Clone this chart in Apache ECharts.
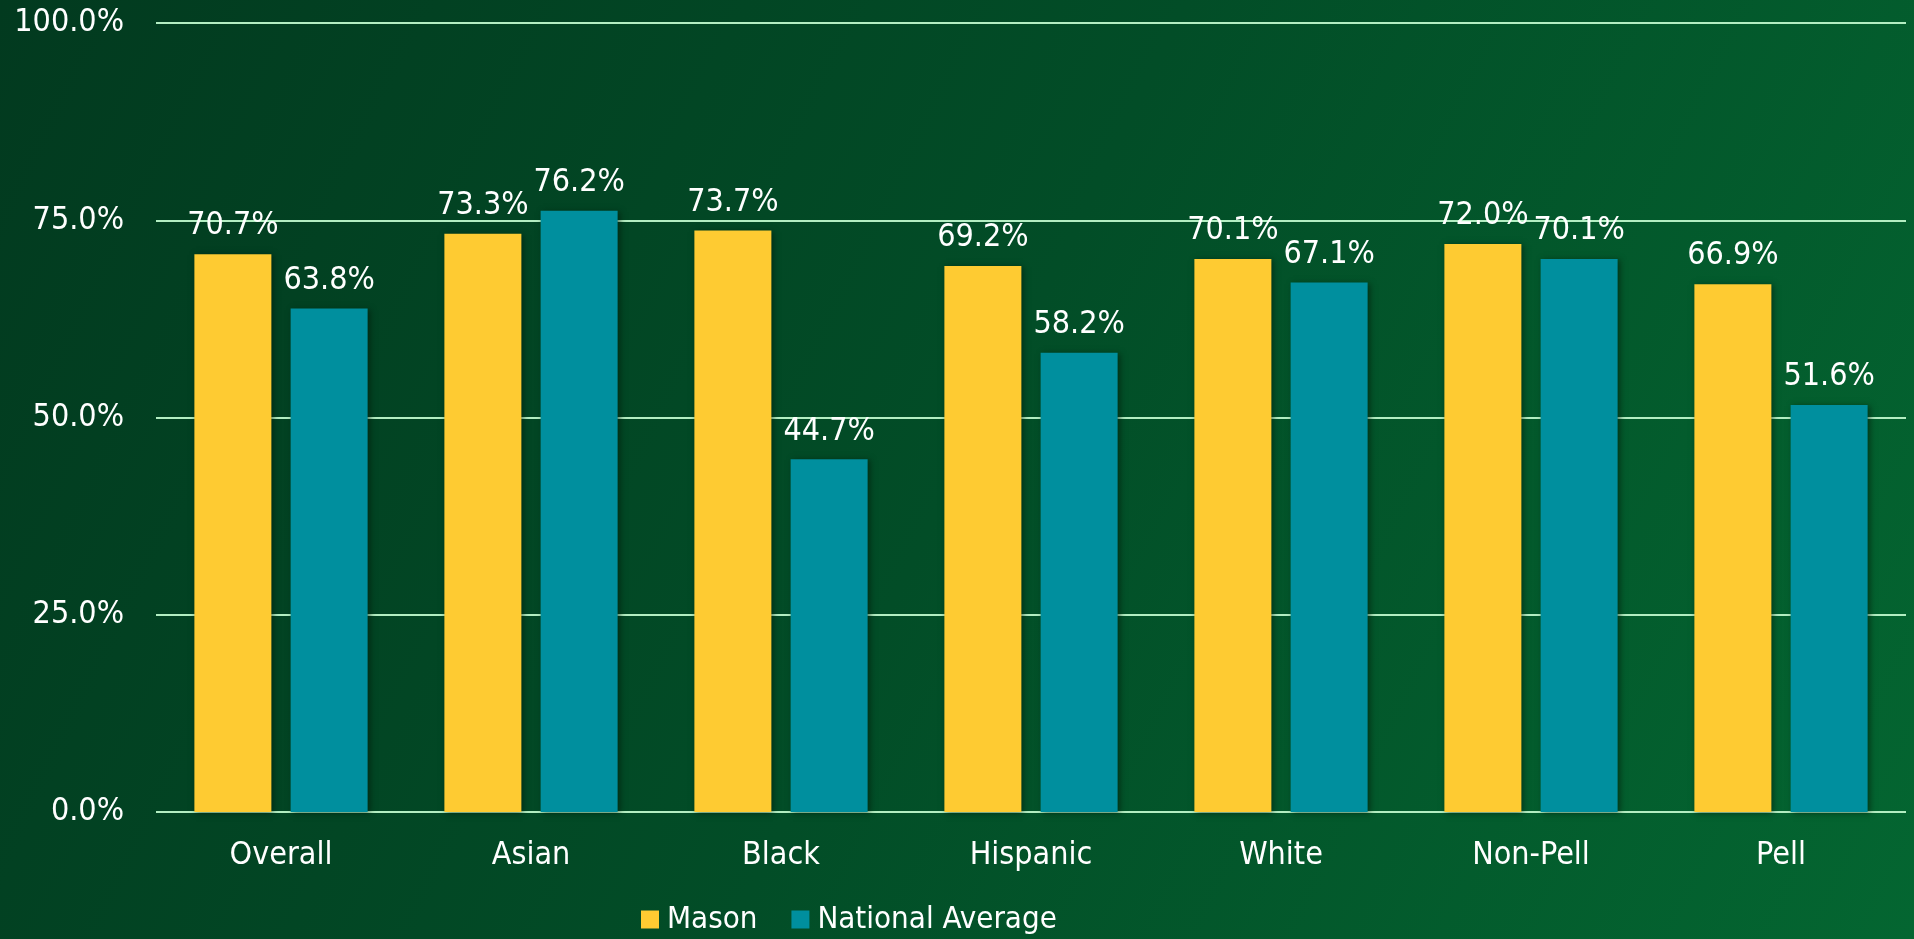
<!DOCTYPE html>
<html>
<head>
<meta charset="utf-8">
<script src="https://cdn.jsdelivr.net/npm/echarts@6/dist/echarts.min.js"></script>
<style>
  html, body { margin: 0; padding: 0; width: 100%; height: 100%; overflow: hidden; }
  #chart { width: 1914px; height: 939px; }
</style>
</head>
<body>
<div id="chart"></div>
<script>
// Graduation rates by student group
const categories = ['Overall', 'Asian', 'Black', 'Hispanic', 'White', 'Non-Pell', 'Pell'];
const masonValues = [70.7, 73.3, 73.7, 69.2, 70.1, 72.0, 66.9];
const nationalValues = [63.8, 76.2, 44.7, 58.2, 67.1, 70.1, 51.6];
const seriesNames = ['Mason', 'National Average'];

const FONT = '"DejaVu Sans Condensed", "DejaVu Sans", sans-serif';
const FONT_SIZE = 32;
const GRID_LINE = '#b3eec2';

const chart = echarts.init(document.getElementById('chart'));

const pct = v => v.toFixed(1) + '%';

function barSeries(name, data, color) {
  return {
    name: name,
    type: 'bar',
    data: data,
    barWidth: 77,
    barGap: '25%',
    itemStyle: {
      color: color,
      shadowColor: 'rgba(0, 20, 8, 0.55)',
      shadowBlur: 6,
      shadowOffsetX: 2,
      shadowOffsetY: 1
    },
    label: {
      show: true,
      position: 'top',
      distance: 12,
      color: '#ffffff',
      fontFamily: FONT,
      fontSize: FONT_SIZE,
      formatter: p => pct(p.value)
    }
  };
}

chart.setOption({
  backgroundColor: new echarts.graphic.LinearGradient(0, 0, 1, 1, [
    { offset: 0, color: '#023a1f' },
    { offset: 0.5, color: '#024d27' },
    { offset: 1, color: '#046631' }
  ]),
  textStyle: { fontFamily: FONT },
  animation: false,
  grid: { left: 156, right: 8, top: 23, bottom: 127, containLabel: false },
  legend: {
    data: seriesNames,
    left: 636,
    top: 899,
    itemWidth: 18,
    itemHeight: 18,
    itemGap: 34,
    icon: 'rect',
    textStyle: {
      color: '#ffffff',
      fontFamily: FONT,
      fontSize: 31,
      padding: [0, 0, 0, 3]
    }
  },
  xAxis: {
    type: 'category',
    data: categories,
    axisLine: { show: false },
    axisTick: { show: false },
    axisLabel: {
      color: '#ffffff',
      fontFamily: FONT,
      fontSize: FONT_SIZE,
      margin: 28
    }
  },
  yAxis: {
    type: 'value',
    min: 0,
    max: 100,
    interval: 25,
    axisLine: { show: false },
    axisTick: { show: false },
    splitLine: { lineStyle: { color: GRID_LINE, width: 2 } },
    axisLabel: {
      color: '#ffffff',
      fontFamily: FONT,
      fontSize: FONT_SIZE,
      margin: 32,
      formatter: v => pct(v)
    }
  },
  series: [
    barSeries(seriesNames[0], masonValues, '#fecb32'),
    barSeries(seriesNames[1], nationalValues, '#008f9e')
  ]
});
</script>
</body>
</html>
